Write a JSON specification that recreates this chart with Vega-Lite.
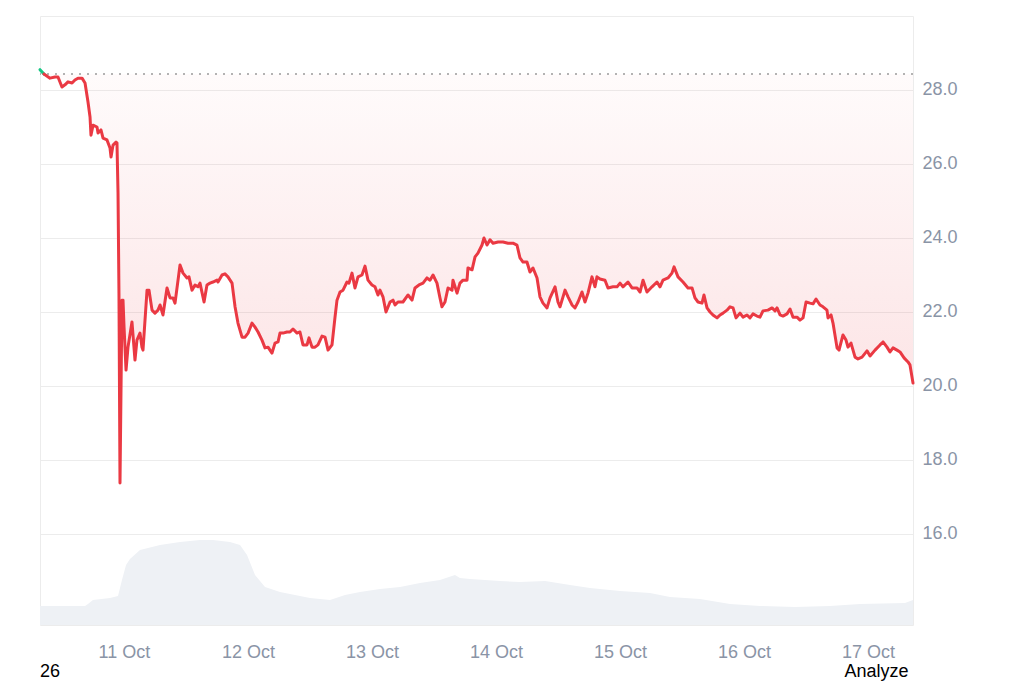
{
  "$schema": "https://vega.github.io/schema/vega-lite/v6.json",
  "width": 873,
  "height": 609,
  "autosize": {"type": "none"},
  "padding": {"left": 40, "top": 16, "right": 111, "bottom": 58},
  "background": "#ffffff",
  "title": {"text": "26", "orient": "bottom", "anchor": "start", "frame": "group", "fontSize": 18, "fontWeight": "normal", "color": "#000000", "font": "Liberation Sans", "offset": 0, "dy": -17},
  "config": {
    "view": {"stroke": "#ececec", "strokeWidth": 1},
    "axis": {"labelFont": "Liberation Sans", "titleFont": "Liberation Sans"}
  },
  "datasets": {
    "price": [
      {"t": "2025-10-10T07:45", "p": 28.55, "s": "up"},
      {"t": "2025-10-10T08:31", "p": 28.43, "s": "up"},
      {"t": "2025-10-10T08:31", "p": 28.43, "s": "down"},
      {"t": "2025-10-10T08:43", "p": 28.41, "s": "down"},
      {"t": "2025-10-10T09:41", "p": 28.32, "s": "down"},
      {"t": "2025-10-10T10:39", "p": 28.35, "s": "down"},
      {"t": "2025-10-10T11:14", "p": 28.35, "s": "down"},
      {"t": "2025-10-10T12:00", "p": 28.08, "s": "down"},
      {"t": "2025-10-10T12:35", "p": 28.14, "s": "down"},
      {"t": "2025-10-10T13:10", "p": 28.22, "s": "down"},
      {"t": "2025-10-10T13:57", "p": 28.19, "s": "down"},
      {"t": "2025-10-10T14:31", "p": 28.27, "s": "down"},
      {"t": "2025-10-10T15:06", "p": 28.32, "s": "down"},
      {"t": "2025-10-10T15:53", "p": 28.32, "s": "down"},
      {"t": "2025-10-10T16:28", "p": 28.19, "s": "down"},
      {"t": "2025-10-10T17:02", "p": 27.68, "s": "down"},
      {"t": "2025-10-10T17:26", "p": 27.27, "s": "down"},
      {"t": "2025-10-10T17:37", "p": 26.78, "s": "down"},
      {"t": "2025-10-10T18:01", "p": 27.05, "s": "down"},
      {"t": "2025-10-10T18:47", "p": 27.00, "s": "down"},
      {"t": "2025-10-10T18:59", "p": 26.84, "s": "down"},
      {"t": "2025-10-10T19:33", "p": 26.92, "s": "down"},
      {"t": "2025-10-10T19:57", "p": 26.70, "s": "down"},
      {"t": "2025-10-10T20:43", "p": 26.65, "s": "down"},
      {"t": "2025-10-10T21:18", "p": 26.43, "s": "down"},
      {"t": "2025-10-10T21:30", "p": 26.19, "s": "down"},
      {"t": "2025-10-10T21:53", "p": 26.51, "s": "down"},
      {"t": "2025-10-10T22:28", "p": 26.59, "s": "down"},
      {"t": "2025-10-10T22:39", "p": 26.57, "s": "down"},
      {"t": "2025-10-10T22:51", "p": 25.22, "s": "down"},
      {"t": "2025-10-10T23:02", "p": 22.51, "s": "down"},
      {"t": "2025-10-10T23:14", "p": 17.38, "s": "down"},
      {"t": "2025-10-10T23:37", "p": 22.32, "s": "down"},
      {"t": "2025-10-10T23:49", "p": 22.32, "s": "down"},
      {"t": "2025-10-11T00:01", "p": 21.59, "s": "down"},
      {"t": "2025-10-11T00:24", "p": 20.43, "s": "down"},
      {"t": "2025-10-11T00:47", "p": 21.05, "s": "down"},
      {"t": "2025-10-11T01:33", "p": 21.73, "s": "down"},
      {"t": "2025-10-11T02:08", "p": 20.70, "s": "down"},
      {"t": "2025-10-11T02:31", "p": 21.24, "s": "down"},
      {"t": "2025-10-11T03:06", "p": 21.43, "s": "down"},
      {"t": "2025-10-11T03:29", "p": 21.05, "s": "down"},
      {"t": "2025-10-11T03:41", "p": 20.97, "s": "down"},
      {"t": "2025-10-11T04:28", "p": 22.59, "s": "down"},
      {"t": "2025-10-11T04:51", "p": 22.59, "s": "down"},
      {"t": "2025-10-11T05:26", "p": 22.05, "s": "down"},
      {"t": "2025-10-11T06:00", "p": 21.97, "s": "down"},
      {"t": "2025-10-11T06:35", "p": 22.05, "s": "down"},
      {"t": "2025-10-11T06:59", "p": 22.19, "s": "down"},
      {"t": "2025-10-11T07:33", "p": 21.92, "s": "down"},
      {"t": "2025-10-11T08:20", "p": 22.65, "s": "down"},
      {"t": "2025-10-11T08:55", "p": 22.38, "s": "down"},
      {"t": "2025-10-11T09:30", "p": 22.38, "s": "down"},
      {"t": "2025-10-11T09:53", "p": 22.24, "s": "down"},
      {"t": "2025-10-11T10:51", "p": 23.27, "s": "down"},
      {"t": "2025-10-11T11:26", "p": 23.05, "s": "down"},
      {"t": "2025-10-11T12:12", "p": 22.92, "s": "down"},
      {"t": "2025-10-11T12:35", "p": 22.95, "s": "down"},
      {"t": "2025-10-11T13:10", "p": 22.59, "s": "down"},
      {"t": "2025-10-11T13:45", "p": 22.73, "s": "down"},
      {"t": "2025-10-11T14:20", "p": 22.68, "s": "down"},
      {"t": "2025-10-11T14:43", "p": 22.78, "s": "down"},
      {"t": "2025-10-11T15:30", "p": 22.27, "s": "down"},
      {"t": "2025-10-11T16:04", "p": 22.73, "s": "down"},
      {"t": "2025-10-11T16:39", "p": 22.78, "s": "down"},
      {"t": "2025-10-11T17:14", "p": 22.81, "s": "down"},
      {"t": "2025-10-11T18:00", "p": 22.86, "s": "down"},
      {"t": "2025-10-11T18:12", "p": 22.81, "s": "down"},
      {"t": "2025-10-11T18:59", "p": 23.00, "s": "down"},
      {"t": "2025-10-11T19:33", "p": 23.03, "s": "down"},
      {"t": "2025-10-11T20:08", "p": 22.95, "s": "down"},
      {"t": "2025-10-11T20:55", "p": 22.78, "s": "down"},
      {"t": "2025-10-11T21:30", "p": 22.14, "s": "down"},
      {"t": "2025-10-11T22:04", "p": 21.70, "s": "down"},
      {"t": "2025-10-11T22:51", "p": 21.32, "s": "down"},
      {"t": "2025-10-11T23:26", "p": 21.32, "s": "down"},
      {"t": "2025-10-12T00:01", "p": 21.43, "s": "down"},
      {"t": "2025-10-12T00:47", "p": 21.70, "s": "down"},
      {"t": "2025-10-12T01:22", "p": 21.59, "s": "down"},
      {"t": "2025-10-12T01:57", "p": 21.46, "s": "down"},
      {"t": "2025-10-12T02:43", "p": 21.24, "s": "down"},
      {"t": "2025-10-12T03:18", "p": 21.03, "s": "down"},
      {"t": "2025-10-12T03:53", "p": 21.05, "s": "down"},
      {"t": "2025-10-12T04:39", "p": 20.89, "s": "down"},
      {"t": "2025-10-12T05:14", "p": 21.16, "s": "down"},
      {"t": "2025-10-12T05:49", "p": 21.19, "s": "down"},
      {"t": "2025-10-12T06:12", "p": 21.43, "s": "down"},
      {"t": "2025-10-12T06:47", "p": 21.43, "s": "down"},
      {"t": "2025-10-12T07:33", "p": 21.46, "s": "down"},
      {"t": "2025-10-12T08:08", "p": 21.46, "s": "down"},
      {"t": "2025-10-12T08:43", "p": 21.54, "s": "down"},
      {"t": "2025-10-12T09:30", "p": 21.43, "s": "down"},
      {"t": "2025-10-12T10:04", "p": 21.46, "s": "down"},
      {"t": "2025-10-12T10:39", "p": 21.11, "s": "down"},
      {"t": "2025-10-12T11:26", "p": 21.11, "s": "down"},
      {"t": "2025-10-12T11:49", "p": 21.30, "s": "down"},
      {"t": "2025-10-12T12:24", "p": 21.05, "s": "down"},
      {"t": "2025-10-12T12:59", "p": 21.05, "s": "down"},
      {"t": "2025-10-12T13:33", "p": 21.11, "s": "down"},
      {"t": "2025-10-12T14:20", "p": 21.35, "s": "down"},
      {"t": "2025-10-12T14:55", "p": 21.32, "s": "down"},
      {"t": "2025-10-12T15:30", "p": 20.97, "s": "down"},
      {"t": "2025-10-12T16:16", "p": 21.11, "s": "down"},
      {"t": "2025-10-12T16:51", "p": 21.86, "s": "down"},
      {"t": "2025-10-12T17:14", "p": 22.32, "s": "down"},
      {"t": "2025-10-12T17:49", "p": 22.54, "s": "down"},
      {"t": "2025-10-12T18:24", "p": 22.59, "s": "down"},
      {"t": "2025-10-12T19:10", "p": 22.81, "s": "down"},
      {"t": "2025-10-12T19:33", "p": 22.78, "s": "down"},
      {"t": "2025-10-12T20:08", "p": 23.05, "s": "down"},
      {"t": "2025-10-12T20:43", "p": 22.65, "s": "down"},
      {"t": "2025-10-12T21:18", "p": 22.95, "s": "down"},
      {"t": "2025-10-12T22:04", "p": 23.00, "s": "down"},
      {"t": "2025-10-12T22:39", "p": 23.24, "s": "down"},
      {"t": "2025-10-12T23:14", "p": 22.86, "s": "down"},
      {"t": "2025-10-13T00:00", "p": 22.73, "s": "down"},
      {"t": "2025-10-13T00:35", "p": 22.68, "s": "down"},
      {"t": "2025-10-13T01:10", "p": 22.46, "s": "down"},
      {"t": "2025-10-13T01:33", "p": 22.59, "s": "down"},
      {"t": "2025-10-13T02:08", "p": 22.41, "s": "down"},
      {"t": "2025-10-13T02:43", "p": 22.00, "s": "down"},
      {"t": "2025-10-13T03:30", "p": 22.27, "s": "down"},
      {"t": "2025-10-13T04:04", "p": 22.32, "s": "down"},
      {"t": "2025-10-13T04:28", "p": 22.19, "s": "down"},
      {"t": "2025-10-13T05:02", "p": 22.27, "s": "down"},
      {"t": "2025-10-13T06:00", "p": 22.27, "s": "down"},
      {"t": "2025-10-13T06:59", "p": 22.46, "s": "down"},
      {"t": "2025-10-13T07:45", "p": 22.32, "s": "down"},
      {"t": "2025-10-13T08:20", "p": 22.65, "s": "down"},
      {"t": "2025-10-13T09:06", "p": 22.73, "s": "down"},
      {"t": "2025-10-13T09:53", "p": 22.78, "s": "down"},
      {"t": "2025-10-13T10:39", "p": 22.92, "s": "down"},
      {"t": "2025-10-13T11:14", "p": 22.86, "s": "down"},
      {"t": "2025-10-13T11:49", "p": 23.00, "s": "down"},
      {"t": "2025-10-13T12:35", "p": 22.78, "s": "down"},
      {"t": "2025-10-13T13:10", "p": 22.38, "s": "down"},
      {"t": "2025-10-13T13:33", "p": 22.14, "s": "down"},
      {"t": "2025-10-13T14:08", "p": 22.27, "s": "down"},
      {"t": "2025-10-13T14:43", "p": 22.65, "s": "down"},
      {"t": "2025-10-13T15:30", "p": 22.59, "s": "down"},
      {"t": "2025-10-13T15:41", "p": 22.86, "s": "down"},
      {"t": "2025-10-13T16:28", "p": 22.51, "s": "down"},
      {"t": "2025-10-13T17:02", "p": 22.78, "s": "down"},
      {"t": "2025-10-13T17:37", "p": 22.86, "s": "down"},
      {"t": "2025-10-13T18:24", "p": 22.86, "s": "down"},
      {"t": "2025-10-13T18:35", "p": 23.19, "s": "down"},
      {"t": "2025-10-13T19:22", "p": 23.14, "s": "down"},
      {"t": "2025-10-13T19:57", "p": 23.49, "s": "down"},
      {"t": "2025-10-13T20:31", "p": 23.59, "s": "down"},
      {"t": "2025-10-13T21:18", "p": 23.81, "s": "down"},
      {"t": "2025-10-13T21:41", "p": 24.00, "s": "down"},
      {"t": "2025-10-13T22:16", "p": 23.81, "s": "down"},
      {"t": "2025-10-13T22:51", "p": 23.95, "s": "down"},
      {"t": "2025-10-13T23:26", "p": 23.86, "s": "down"},
      {"t": "2025-10-14T00:24", "p": 23.89, "s": "down"},
      {"t": "2025-10-14T01:22", "p": 23.89, "s": "down"},
      {"t": "2025-10-14T02:20", "p": 23.86, "s": "down"},
      {"t": "2025-10-14T03:18", "p": 23.86, "s": "down"},
      {"t": "2025-10-14T04:04", "p": 23.81, "s": "down"},
      {"t": "2025-10-14T04:39", "p": 23.46, "s": "down"},
      {"t": "2025-10-14T05:14", "p": 23.35, "s": "down"},
      {"t": "2025-10-14T06:00", "p": 23.35, "s": "down"},
      {"t": "2025-10-14T06:35", "p": 23.08, "s": "down"},
      {"t": "2025-10-14T07:10", "p": 23.19, "s": "down"},
      {"t": "2025-10-14T07:57", "p": 22.92, "s": "down"},
      {"t": "2025-10-14T08:31", "p": 22.41, "s": "down"},
      {"t": "2025-10-14T09:06", "p": 22.24, "s": "down"},
      {"t": "2025-10-14T09:53", "p": 22.11, "s": "down"},
      {"t": "2025-10-14T10:28", "p": 22.38, "s": "down"},
      {"t": "2025-10-14T11:26", "p": 22.68, "s": "down"},
      {"t": "2025-10-14T12:00", "p": 22.27, "s": "down"},
      {"t": "2025-10-14T12:24", "p": 22.14, "s": "down"},
      {"t": "2025-10-14T13:22", "p": 22.59, "s": "down"},
      {"t": "2025-10-14T13:57", "p": 22.41, "s": "down"},
      {"t": "2025-10-14T14:43", "p": 22.19, "s": "down"},
      {"t": "2025-10-14T15:18", "p": 22.11, "s": "down"},
      {"t": "2025-10-14T15:53", "p": 22.27, "s": "down"},
      {"t": "2025-10-14T16:39", "p": 22.54, "s": "down"},
      {"t": "2025-10-14T17:14", "p": 22.27, "s": "down"},
      {"t": "2025-10-14T17:49", "p": 22.51, "s": "down"},
      {"t": "2025-10-14T18:35", "p": 22.95, "s": "down"},
      {"t": "2025-10-14T19:10", "p": 22.68, "s": "down"},
      {"t": "2025-10-14T19:33", "p": 22.95, "s": "down"},
      {"t": "2025-10-14T20:08", "p": 22.89, "s": "down"},
      {"t": "2025-10-14T21:06", "p": 22.86, "s": "down"},
      {"t": "2025-10-14T21:41", "p": 22.65, "s": "down"},
      {"t": "2025-10-14T22:39", "p": 22.68, "s": "down"},
      {"t": "2025-10-14T23:26", "p": 22.68, "s": "down"},
      {"t": "2025-10-15T00:01", "p": 22.78, "s": "down"},
      {"t": "2025-10-15T00:35", "p": 22.68, "s": "down"},
      {"t": "2025-10-15T01:33", "p": 22.81, "s": "down"},
      {"t": "2025-10-15T02:20", "p": 22.65, "s": "down"},
      {"t": "2025-10-15T03:18", "p": 22.65, "s": "down"},
      {"t": "2025-10-15T03:53", "p": 22.54, "s": "down"},
      {"t": "2025-10-15T04:28", "p": 22.86, "s": "down"},
      {"t": "2025-10-15T05:14", "p": 22.54, "s": "down"},
      {"t": "2025-10-15T06:12", "p": 22.68, "s": "down"},
      {"t": "2025-10-15T07:10", "p": 22.81, "s": "down"},
      {"t": "2025-10-15T07:45", "p": 22.68, "s": "down"},
      {"t": "2025-10-15T08:20", "p": 22.86, "s": "down"},
      {"t": "2025-10-15T09:18", "p": 22.92, "s": "down"},
      {"t": "2025-10-15T10:04", "p": 23.05, "s": "down"},
      {"t": "2025-10-15T10:28", "p": 23.22, "s": "down"},
      {"t": "2025-10-15T11:14", "p": 22.95, "s": "down"},
      {"t": "2025-10-15T12:12", "p": 22.81, "s": "down"},
      {"t": "2025-10-15T13:10", "p": 22.65, "s": "down"},
      {"t": "2025-10-15T13:57", "p": 22.65, "s": "down"},
      {"t": "2025-10-15T14:31", "p": 22.38, "s": "down"},
      {"t": "2025-10-15T15:06", "p": 22.27, "s": "down"},
      {"t": "2025-10-15T15:53", "p": 22.24, "s": "down"},
      {"t": "2025-10-15T16:16", "p": 22.46, "s": "down"},
      {"t": "2025-10-15T16:51", "p": 22.11, "s": "down"},
      {"t": "2025-10-15T17:26", "p": 22.00, "s": "down"},
      {"t": "2025-10-15T18:00", "p": 21.92, "s": "down"},
      {"t": "2025-10-15T18:47", "p": 21.84, "s": "down"},
      {"t": "2025-10-15T19:22", "p": 21.92, "s": "down"},
      {"t": "2025-10-15T19:57", "p": 21.97, "s": "down"},
      {"t": "2025-10-15T20:43", "p": 22.05, "s": "down"},
      {"t": "2025-10-15T21:18", "p": 22.14, "s": "down"},
      {"t": "2025-10-15T21:53", "p": 22.11, "s": "down"},
      {"t": "2025-10-15T22:28", "p": 21.84, "s": "down"},
      {"t": "2025-10-15T23:14", "p": 21.97, "s": "down"},
      {"t": "2025-10-15T23:49", "p": 21.86, "s": "down"},
      {"t": "2025-10-16T00:35", "p": 21.92, "s": "down"},
      {"t": "2025-10-16T01:10", "p": 21.84, "s": "down"},
      {"t": "2025-10-16T01:45", "p": 21.95, "s": "down"},
      {"t": "2025-10-16T02:31", "p": 21.89, "s": "down"},
      {"t": "2025-10-16T03:06", "p": 21.86, "s": "down"},
      {"t": "2025-10-16T03:41", "p": 22.03, "s": "down"},
      {"t": "2025-10-16T04:39", "p": 22.05, "s": "down"},
      {"t": "2025-10-16T05:26", "p": 22.11, "s": "down"},
      {"t": "2025-10-16T06:01", "p": 22.03, "s": "down"},
      {"t": "2025-10-16T06:24", "p": 22.11, "s": "down"},
      {"t": "2025-10-16T06:59", "p": 21.92, "s": "down"},
      {"t": "2025-10-16T07:33", "p": 21.89, "s": "down"},
      {"t": "2025-10-16T08:20", "p": 21.95, "s": "down"},
      {"t": "2025-10-16T08:55", "p": 22.08, "s": "down"},
      {"t": "2025-10-16T09:30", "p": 21.86, "s": "down"},
      {"t": "2025-10-16T10:16", "p": 21.86, "s": "down"},
      {"t": "2025-10-16T10:51", "p": 21.78, "s": "down"},
      {"t": "2025-10-16T11:26", "p": 21.84, "s": "down"},
      {"t": "2025-10-16T12:01", "p": 22.27, "s": "down"},
      {"t": "2025-10-16T12:47", "p": 22.24, "s": "down"},
      {"t": "2025-10-16T13:22", "p": 22.22, "s": "down"},
      {"t": "2025-10-16T13:57", "p": 22.35, "s": "down"},
      {"t": "2025-10-16T14:43", "p": 22.19, "s": "down"},
      {"t": "2025-10-16T15:18", "p": 22.14, "s": "down"},
      {"t": "2025-10-16T16:04", "p": 22.05, "s": "down"},
      {"t": "2025-10-16T16:16", "p": 21.84, "s": "down"},
      {"t": "2025-10-16T16:51", "p": 21.92, "s": "down"},
      {"t": "2025-10-16T17:14", "p": 21.70, "s": "down"},
      {"t": "2025-10-16T18:01", "p": 21.03, "s": "down"},
      {"t": "2025-10-16T18:24", "p": 20.97, "s": "down"},
      {"t": "2025-10-16T19:10", "p": 21.38, "s": "down"},
      {"t": "2025-10-16T19:45", "p": 21.24, "s": "down"},
      {"t": "2025-10-16T20:08", "p": 21.05, "s": "down"},
      {"t": "2025-10-16T20:43", "p": 21.16, "s": "down"},
      {"t": "2025-10-16T21:30", "p": 20.78, "s": "down"},
      {"t": "2025-10-16T22:04", "p": 20.73, "s": "down"},
      {"t": "2025-10-16T22:51", "p": 20.78, "s": "down"},
      {"t": "2025-10-16T23:49", "p": 20.95, "s": "down"},
      {"t": "2025-10-17T00:24", "p": 20.81, "s": "down"},
      {"t": "2025-10-17T01:22", "p": 20.97, "s": "down"},
      {"t": "2025-10-17T02:20", "p": 21.11, "s": "down"},
      {"t": "2025-10-17T02:55", "p": 21.19, "s": "down"},
      {"t": "2025-10-17T03:41", "p": 21.05, "s": "down"},
      {"t": "2025-10-17T04:16", "p": 20.92, "s": "down"},
      {"t": "2025-10-17T04:51", "p": 21.03, "s": "down"},
      {"t": "2025-10-17T05:37", "p": 20.97, "s": "down"},
      {"t": "2025-10-17T06:12", "p": 20.92, "s": "down"},
      {"t": "2025-10-17T06:59", "p": 20.76, "s": "down"},
      {"t": "2025-10-17T07:45", "p": 20.65, "s": "down"},
      {"t": "2025-10-17T08:08", "p": 20.57, "s": "down"},
      {"t": "2025-10-17T08:43", "p": 20.08, "s": "down"}
    ],
    "volume": [
      {"t": "2025-10-10T07:45", "v": 19},
      {"t": "2025-10-10T16:28", "v": 19},
      {"t": "2025-10-10T17:02", "v": 21},
      {"t": "2025-10-10T18:00", "v": 25},
      {"t": "2025-10-10T21:18", "v": 27},
      {"t": "2025-10-10T22:51", "v": 29},
      {"t": "2025-10-10T23:37", "v": 45},
      {"t": "2025-10-11T00:24", "v": 60},
      {"t": "2025-10-11T01:10", "v": 66},
      {"t": "2025-10-11T03:06", "v": 75},
      {"t": "2025-10-11T06:59", "v": 80},
      {"t": "2025-10-11T10:51", "v": 83},
      {"t": "2025-10-11T14:43", "v": 85},
      {"t": "2025-10-11T17:14", "v": 85},
      {"t": "2025-10-11T20:31", "v": 83},
      {"t": "2025-10-11T22:28", "v": 80},
      {"t": "2025-10-11T23:49", "v": 70},
      {"t": "2025-10-12T01:22", "v": 50},
      {"t": "2025-10-12T03:18", "v": 38},
      {"t": "2025-10-12T06:12", "v": 33},
      {"t": "2025-10-12T10:04", "v": 29},
      {"t": "2025-10-12T12:00", "v": 27},
      {"t": "2025-10-12T15:53", "v": 25},
      {"t": "2025-10-12T18:47", "v": 30},
      {"t": "2025-10-12T21:41", "v": 33},
      {"t": "2025-10-13T01:33", "v": 36},
      {"t": "2025-10-13T05:26", "v": 38},
      {"t": "2025-10-13T09:18", "v": 42},
      {"t": "2025-10-13T13:10", "v": 45},
      {"t": "2025-10-13T16:04", "v": 50},
      {"t": "2025-10-13T17:02", "v": 47},
      {"t": "2025-10-13T18:59", "v": 46},
      {"t": "2025-10-14T00:47", "v": 44},
      {"t": "2025-10-14T04:39", "v": 43},
      {"t": "2025-10-14T09:30", "v": 44},
      {"t": "2025-10-14T14:20", "v": 40},
      {"t": "2025-10-14T18:12", "v": 37},
      {"t": "2025-10-15T00:01", "v": 34},
      {"t": "2025-10-15T05:49", "v": 32},
      {"t": "2025-10-15T09:41", "v": 28},
      {"t": "2025-10-15T15:30", "v": 26},
      {"t": "2025-10-15T21:18", "v": 21},
      {"t": "2025-10-16T03:06", "v": 19},
      {"t": "2025-10-16T09:53", "v": 18},
      {"t": "2025-10-16T16:39", "v": 19},
      {"t": "2025-10-16T22:28", "v": 21},
      {"t": "2025-10-17T07:10", "v": 22},
      {"t": "2025-10-17T08:43", "v": 25}
    ],
    "baseline": [{"base": 28.43}]
  },
  "layer": [
    {
      "data": {"name": "volume"},
      "mark": {"type": "area", "color": "#eef1f5", "interpolate": "linear"},
      "encoding": {
        "x": {"field": "t", "type": "temporal", "scale": {"nice": false},
          "axis": {"title": "Analyze", "format": "%-d %b", "tickCount": {"interval": "day", "step": 1}, "grid": false, "ticks": false, "tickSize": 0, "domain": false, "labelFontSize": 18, "labelColor": "#8a94a6", "labelPadding": 18, "titleAnchor": "end", "titleAlign": "right", "titleX": 868, "titleFontSize": 18, "titleFontWeight": "normal", "titleColor": "#000000", "titlePadding": 1}},
        "y": {"field": "v", "type": "quantitative", "scale": {"domain": [0, 609], "nice": false, "zero": true}, "axis": null}
      }
    },
    {
      "layer": [
        {
          "data": {"name": "price"},
          "transform": [{"filter": {"field": "s", "equal": "down"}}],
          "mark": {"type": "area", "color": {"gradient": "linear", "x1": 0, "y1": 1, "x2": 0, "y2": 0, "stops": [{"offset": 0, "color": "rgba(234,57,67,0.17)"}, {"offset": 1, "color": "rgba(234,57,67,0.02)"}]}},
          "encoding": {
            "x": {"field": "t", "type": "temporal"},
            "y": {"field": "p", "type": "quantitative", "scale": {"domain": [13.54, 30], "nice": false, "zero": false},
              "axis": {"orient": "right", "values": [16, 18, 20, 22, 24, 26, 28], "format": ".1f", "title": null, "grid": true, "gridColor": "#ececec", "ticks": false, "tickSize": 0, "domain": false, "labelFontSize": 18, "labelColor": "#8a94a6", "labelPadding": 9}},
            "y2": {"datum": 28.43}
          }
        },
        {
          "data": {"name": "baseline"},
          "mark": {"type": "rule", "color": "#9a9a9a", "strokeDash": [2, 6], "strokeWidth": 1.5},
          "encoding": {"y": {"field": "base", "type": "quantitative"}}
        },
        {
          "data": {"name": "price"},
          "mark": {"type": "line", "strokeWidth": 3, "strokeJoin": "round", "strokeCap": "round"},
          "encoding": {
            "x": {"field": "t", "type": "temporal"},
            "y": {"field": "p", "type": "quantitative"},
            "color": {"field": "s", "type": "nominal", "scale": {"domain": ["up", "down"], "range": ["#16c784", "#ea3943"]}, "legend": null}
          }
        }
      ]
    }
  ],
  "resolve": {"scale": {"y": "independent"}}
}
